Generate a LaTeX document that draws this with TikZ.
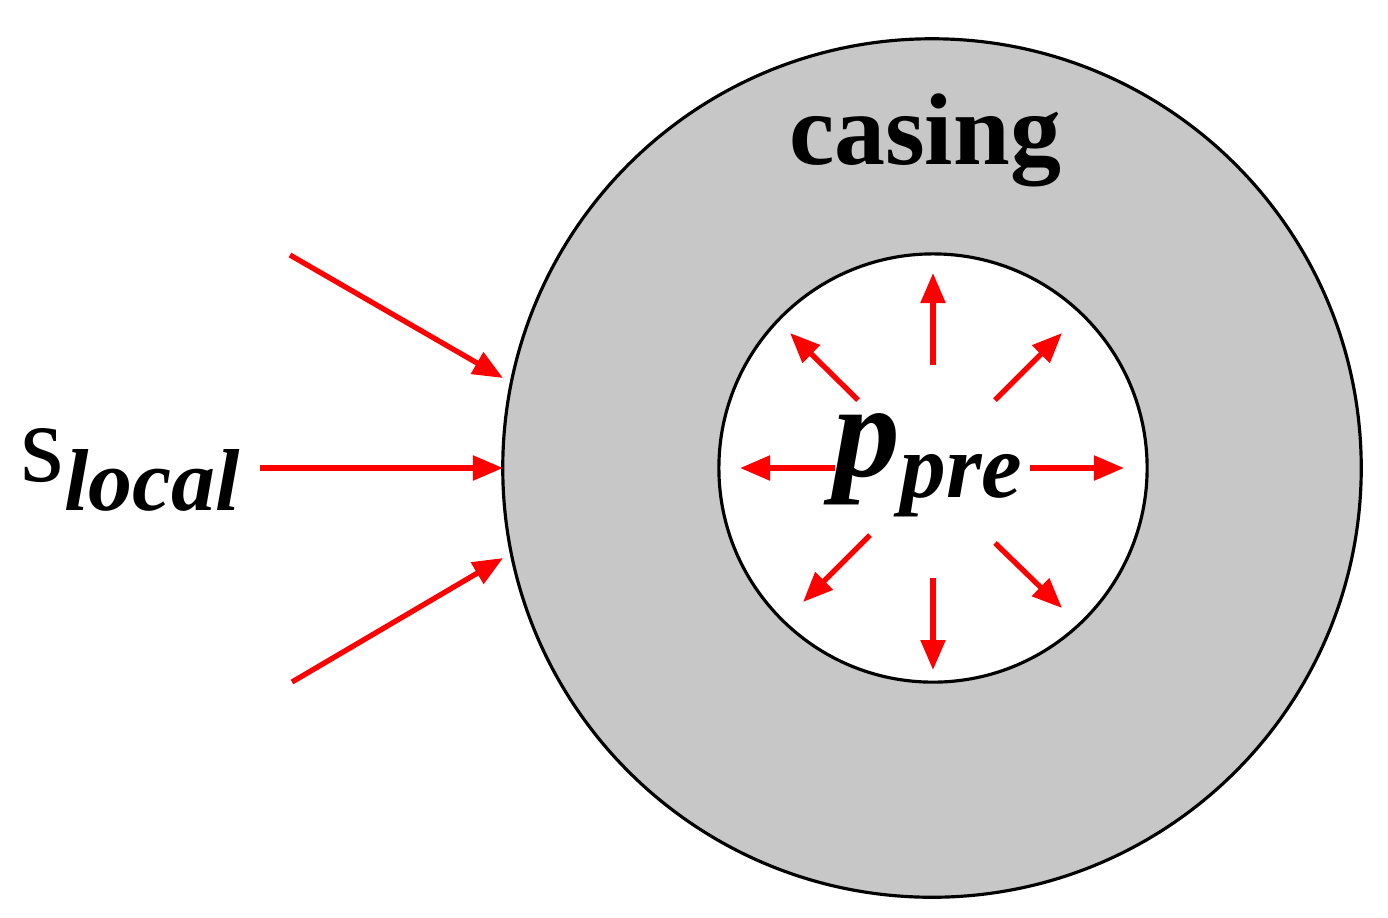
\documentclass[tikz,border=0pt]{standalone}
\usepackage{fontspec}
\setmainfont{Liberation Serif}
\usetikzlibrary{arrows.meta}
\begin{document}
\begin{tikzpicture}[x=0.01cm,y=-0.01cm,
  ra/.style={red,line width=1.5pt,-{Triangle[length=0.3cm,width=0.24cm]}}]
\useasboundingbox (0,0) rectangle (1388,917);
\node[circle,draw,line width=0.9pt,fill=black!22,minimum size=8.58cm,inner sep=0] (outer) at (932,468) {};
\node[circle,draw,line width=0.9pt,fill=white,minimum size=4.28cm,inner sep=0] (inner) at (933,468) {};
\node (casing) at (925,140) {\fontsize{29}{30}\selectfont\bfseries casing};
\node (s) at (130,470) {\fontsize{32}{32}\selectfont s\raisebox{-0.55ex}{\fontsize{25}{25}\selectfont\bfseries\itshape local}};
\node (p) at (928,465) {\fontsize{38}{38}\selectfont\bfseries\itshape p\raisebox{-0.35ex}{\fontsize{26}{26}\selectfont pre}};
\coordinate (a1) at (290,255); \coordinate (b1) at (503,378);
\coordinate (a2) at (260,468); \coordinate (b2) at (503,468);
\coordinate (a3) at (292,682); \coordinate (b3) at (503,558);
\draw[ra] (a1)--(b1); \draw[ra] (a2)--(b2); \draw[ra] (a3)--(b3);
\foreach \sx/\sy/\ex/\ey [count=\i] in {933/365/933/273, 933/578/933/670, 835/468/740/468, 1030/468/1124/468, 858/400/790/333, 995/400/1062/333, 870/535/803/602, 995/543/1062/608}{
  \coordinate (s\i) at (\sx,\sy); \coordinate (e\i) at (\ex,\ey);
  \draw[ra] (s\i)--(e\i);}
\end{tikzpicture}
\end{document}
